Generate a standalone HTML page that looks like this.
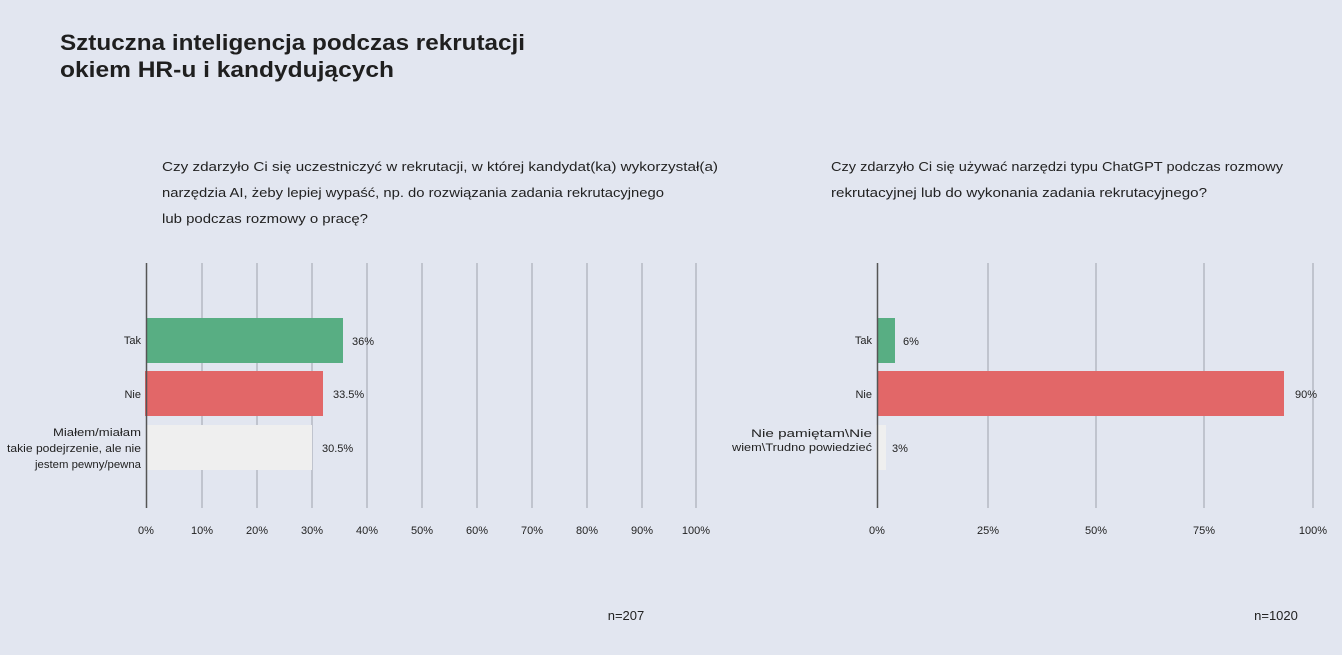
<!DOCTYPE html>
<html><head><meta charset="utf-8"><style>
body{margin:0;background:#e2e6f0;width:1342px;height:650px;overflow:hidden;font-family:"Liberation Sans",sans-serif}
</style></head><body>
<svg width="1342" height="650" xmlns="http://www.w3.org/2000/svg" font-family="Liberation Sans, sans-serif">
<rect width="1342" height="650" fill="#e2e6f0"/>
<g font-size="22" font-weight="bold" fill="#1f1f1f">
<text x="60" y="50" textLength="465" lengthAdjust="spacingAndGlyphs">Sztuczna inteligencja podczas rekrutacji</text>
<text x="60" y="77" textLength="334" lengthAdjust="spacingAndGlyphs">okiem HR-u i kandydujących</text>
</g>
<g font-size="13" fill="#222">
<text x="162" y="171" textLength="556" lengthAdjust="spacingAndGlyphs">Czy zdarzyło Ci się uczestniczyć w rekrutacji, w której kandydat(ka) wykorzystał(a)</text>
<text x="162" y="197" textLength="502" lengthAdjust="spacingAndGlyphs">narzędzia AI, żeby lepiej wypaść, np. do rozwiązania zadania rekrutacyjnego</text>
<text x="162" y="223" textLength="206" lengthAdjust="spacingAndGlyphs">lub podczas rozmowy o pracę?</text>
<text x="831" y="171" textLength="452" lengthAdjust="spacingAndGlyphs">Czy zdarzyło Ci się używać narzędzi typu ChatGPT podczas rozmowy</text>
<text x="831" y="197" textLength="376" lengthAdjust="spacingAndGlyphs">rekrutacyjnej lub do wykonania zadania rekrutacyjnego?</text>
</g>
<g stroke="#b4b8c2" stroke-width="1.5">
<line x1="202" y1="263" x2="202" y2="508"/><line x1="257" y1="263" x2="257" y2="508"/>
<line x1="312" y1="263" x2="312" y2="508"/><line x1="367" y1="263" x2="367" y2="508"/>
<line x1="422" y1="263" x2="422" y2="508"/><line x1="477" y1="263" x2="477" y2="508"/>
<line x1="532" y1="263" x2="532" y2="508"/><line x1="587" y1="263" x2="587" y2="508"/>
<line x1="642" y1="263" x2="642" y2="508"/><line x1="696" y1="263" x2="696" y2="508"/>
<line x1="988" y1="263" x2="988" y2="508"/><line x1="1096" y1="263" x2="1096" y2="508"/>
<line x1="1204" y1="263" x2="1204" y2="508"/><line x1="1313" y1="263" x2="1313" y2="508"/>
</g>
<rect x="146" y="318" width="197" height="45" fill="#58ae83"/>
<rect x="145" y="371" width="178" height="45" fill="#e26768"/>
<rect x="146" y="425" width="166" height="45" fill="#efefef"/>
<rect x="877" y="318" width="18" height="45" fill="#58ae83"/>
<rect x="877" y="371" width="407" height="45" fill="#e26768"/>
<rect x="876" y="425" width="10" height="45" fill="#efefef"/>
<g stroke="#555" stroke-width="1.5">
<line x1="146.5" y1="263" x2="146.5" y2="508"/><line x1="877.5" y1="263" x2="877.5" y2="508"/>
</g>
<g font-size="11" fill="#222">
<g text-anchor="end">
<text x="141" y="344">Tak</text><text x="141" y="398">Nie</text>
<text x="141" y="436" textLength="88" lengthAdjust="spacingAndGlyphs">Miałem/miałam</text><text x="141" y="452" textLength="134" lengthAdjust="spacingAndGlyphs">takie podejrzenie, ale nie</text><text x="141" y="468" textLength="106" lengthAdjust="spacingAndGlyphs">jestem pewny/pewna</text>
<text x="872" y="344">Tak</text><text x="872" y="398">Nie</text>
<text x="872" y="437" textLength="121" lengthAdjust="spacingAndGlyphs">Nie pamiętam\Nie</text><text x="872" y="451" textLength="140" lengthAdjust="spacingAndGlyphs">wiem\Trudno powiedzieć</text>
</g>
<text x="352" y="345">36%</text><text x="333" y="398">33.5%</text><text x="322" y="452">30.5%</text>
<text x="903" y="345">6%</text><text x="1295" y="398">90%</text><text x="892" y="452">3%</text>
<g text-anchor="middle">
<text x="146" y="534">0%</text><text x="202" y="534">10%</text><text x="257" y="534">20%</text><text x="312" y="534">30%</text><text x="367" y="534">40%</text><text x="422" y="534">50%</text><text x="477" y="534">60%</text><text x="532" y="534">70%</text><text x="587" y="534">80%</text><text x="642" y="534">90%</text><text x="696" y="534">100%</text>
<text x="877" y="534">0%</text><text x="988" y="534">25%</text><text x="1096" y="534">50%</text><text x="1204" y="534">75%</text><text x="1313" y="534">100%</text>
</g>
</g>
<g font-size="13" fill="#222" text-anchor="middle">
<text x="626" y="620">n=207</text><text x="1276" y="620">n=1020</text>
</g>
</svg>
</body></html>
